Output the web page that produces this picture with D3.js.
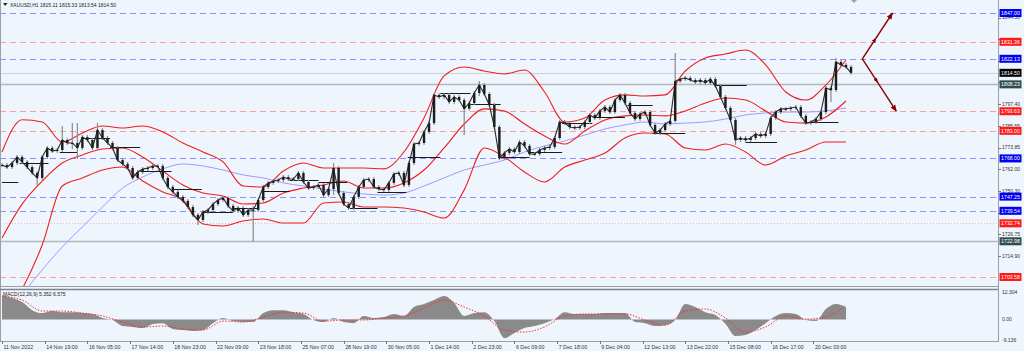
<!DOCTYPE html>
<html><head><meta charset="utf-8">
<script src="https://cdn.jsdelivr.net/npm/d3@7"></script>
<style>
html,body{margin:0;padding:0;background:#eff5fc;}
svg{display:block;font-family:"Liberation Sans",Arial,sans-serif;}
</style></head><body>
<svg id="chart" width="1024" height="351"></svg>
<script>
// XAUUSD H1: one close every 4 bars
const STEP = 4;
const closes = [
 1764.4,1763.3,1765.5,1768.8,1766.1,1763.3,1760.1,1757.4,1768.8,1773.7,
 1772.0,1772.6,1778.0,1776.4,1776.4,1773.7,1779.6,1778.0,1773.7,1783.4,
 1779.1,1776.4,1773.7,1767.1,1765.0,1762.8,1757.4,1760.6,1762.2,1762.8,
 1763.9,1763.9,1757.4,1752.5,1749.8,1747.1,1744.9,1741.6,1737.3,1734.6,
 1738.9,1740.0,1743.2,1745.4,1746.5,1742.2,1739.5,1741.1,1737.3,1740.0,
 1740.0,1745.4,1752.5,1754.7,1755.7,1756.3,1757.9,1756.8,1756.8,1760.1,
 1755.2,1751.9,1752.5,1753.6,1748.1,1751.4,1762.8,1749.2,1743.2,1741.1,
 1747.1,1752.5,1756.3,1756.8,1752.5,1751.4,1750.9,1754.7,1759.6,1760.1,
 1753.6,1765.5,1775.8,1776.4,1782.4,1787.2,1802.5,1801.4,1802.5,1798.7,
 1801.4,1799.7,1795.0,1798.1,1803.5,1807.9,1803.0,1797.0,1785.1,1768.2,
 1771.0,1773.1,1771.5,1776.9,1774.8,1770.4,1770.4,1772.6,1773.7,1774.2,
 1779.1,1787.8,1787.2,1785.1,1784.5,1785.1,1787.8,1791.6,1790.0,1793.8,
 1795.9,1793.2,1799.7,1802.5,1798.1,1792.7,1789.4,1792.1,1793.2,1786.2,
 1781.8,1783.4,1786.7,1788.4,1810.0,1811.1,1811.7,1810.6,1809.5,1810.6,
 1809.0,1811.1,1807.3,1801.4,1795.4,1788.9,1778.0,1779.1,1778.0,1779.1,
 1781.3,1780.2,1781.3,1790.0,1793.2,1794.9,1794.9,1795.4,1795.9,1791.1,
 1787.2,1787.8,1789.4,1793.2,1806.3,1805.2,1820.4,1818.8,1817.7,1814.5
];
// [sample, high, low] for the long shadows
const wicks = [
 [7,1760.1,1754.7],[12,1784.5,1776.4],[14,1786.2,1774.2],[15,1786.2,1768.8],
 [19,1786.2,1779.1],[39,1737.3,1732.9],[50,1741.1,1723.7],[66,1764.4,1749.2],
 [92,1799.7,1781.8],[95,1809.0,1803.0],[134,1824.2,1788.4],[146,1788.9,1776.4],
 [165,1806.3,1799.7],[166,1821.5,1805.2]
];

// indicators, one value every 16 bars
const BAND_STEP = 16;
const bbUpper = [1771.5,1789.0,1787.8,1776.9,1781.8,1785.6,1784.5,1785.6,1782.4,1776.4,
 1771.5,1766.1,1753.0,1752.5,1761.2,1765.5,1762.8,1762.8,1762.8,1762.3,1771.5,1790.0,
 1812.8,1817.7,1815.5,1813.9,1816.0,1804.1,1787.8,1790.0,1799.7,1802.5,1801.9,1802.5,
 1815.5,1822.6,1824.7,1826.9,1818.8,1804.1,1799.7,1807.9,1821.5];
const bbMiddle = [1724.8,1743.2,1755.7,1765.5,1769.9,1773.1,1773.7,1768.8,1761.2,1753.6,
 1749.2,1747.6,1743.2,1743.8,1749.2,1751.9,1753.6,1755.7,1751.9,1751.9,1754.7,1761.7,
 1773.7,1786.7,1794.9,1793.8,1786.7,1780.2,1775.8,1782.9,1788.9,1791.1,1791.6,1791.1,
 1793.8,1798.1,1800.8,1799.7,1793.8,1787.8,1787.2,1790.5,1799.2];
const bbLower = [1680.0,1697.0,1721.0,1753.0,1757.4,1761.7,1763.3,1755.7,1749.8,1745.4,
 1732.4,1731.3,1734.0,1735.1,1732.9,1732.9,1743.8,1744.3,1741.6,1741.6,1741.1,1738.9,
 1735.6,1750.9,1773.7,1768.8,1760.6,1755.2,1763.3,1767.1,1770.9,1779.1,1781.8,1781.3,
 1773.7,1772.6,1775.8,1771.5,1764.4,1769.3,1772.6,1776.9,1776.9];
const maSlow = [1670.0,1693.0,1707.4,1719.9,1730.8,1741.6,1751.9,1757.9,1762.3,1765.0,
 1763.9,1761.7,1759.0,1757.4,1754.7,1753.0,1751.4,1749.8,1748.7,1748.1,1749.2,1753.0,
 1757.4,1761.7,1764.4,1767.1,1771.5,1774.8,1777.5,1780.7,1784.0,1786.2,1787.8,1786.7,
 1787.2,1787.8,1789.4,1791.6,1792.7,1793.2,1793.2,1793.8,1795.4];

// MACD(12,26,9): main every 8 bars, signal every 16 bars
const MACD_STEP = 8;
const macdMain = [10.9,9.6,7.8,4.2,2.9,3.8,3.3,3.3,2.9,2.5,
 0.7,-0.2,-2.9,-3.3,-3.8,-2.0,-1.6,-4.2,-4.7,-5.1,
 -4.7,-1.6,0.7,-0.7,-1.1,-1.1,2.9,4.2,4.2,3.3,
 2.5,-0.2,-1.1,0.7,-1.1,-1.6,1.6,0.7,1.1,2.5,
 1.6,5.6,6.9,8.7,10.5,7.4,1.6,2.9,3.3,-0.7,
 -8.3,-6.0,-3.8,-2.9,-1.6,0.2,3.3,2.5,2.5,2.5,
 2.9,2.9,2.9,-1.1,-1.6,-2.9,-2.5,-0.2,6.9,5.6,
 3.3,2.0,-2.0,-7.4,-6.9,-4.7,-1.6,1.6,2.9,2.5,
 -0.2,-0.7,4.7,6.9,5.4];
const macdSignal = [10.5,8.7,3.8,3.8,2.9,1.6,-1.1,-3.3,-2.9,-4.2,-4.7,-0.7,-1.1,1.1,
 3.3,2.9,-0.7,-0.2,-0.2,0.7,1.6,5.1,8.7,5.6,1.6,-4.7,-5.6,-3.3,1.6,2.5,2.5,2.5,-0.2,
 -2.5,3.8,4.7,0.7,-5.6,-3.3,1.6,0.2,1.1,6.5];

// previous-session close markers: [fromBar, toBar, price]
const sessionLines = [[0,13,1755.2],[14,37,1765.5],[46,60,1771.5],[64,86,1779.1],
 [86,110,1774.2],[110,135,1761.2],[136,159,1751.4],[160,184,1738.9],[184,204,1741.1],
 [208,229,1750.3],[229,252,1756.3],[252,275,1755.2],[277,299,1741.1],[299,322,1749.8],
 [323,349,1768.8],[349,373,1803.5],[373,397,1797.6],[397,420,1768.8],[420,446,1771.5],
 [446,470,1787.2],[471,496,1790.5],[498,518,1797.0],[518,544,1781.8],[568,593,1807.9],
 [592,617,1776.9],[643,666,1787.8]];

// horizontal levels
const levelPrices = [1847.00,1831.36,1822.13,1793.63,1783.00,1768.00,1747.25,1739.54,1732.74,1703.58];
const levelKinds  = ['zone','target','zone','target','target','zone','zone','zone','stop','target'];
const markPrices = [1814.50,1808.23,1722.98];
const markKinds  = ['bid','pivot','pivot'];

// projection arrows: apex, upper target, lower target
const projBars   = [685,709,712];
const projPrices = [1822.13,1847.00,1793.63];

const priceTicks = [1844.50,1832.80,1820.95,1809.25,1797.40,1785.55,1773.85,1762.00,1750.30,1738.45,1726.75,1714.90];
const macdTicks = [12.304,0.00,-9.136];
const timeLabels = ['11 Nov 2022','14 Nov 19:00','16 Nov 05:00','17 Nov 14:00','18 Nov 23:00',
 '22 Nov 09:00','23 Nov 18:00','25 Nov 07:00','28 Nov 19:00','30 Nov 05:00','1 Dec 14:00',
 '2 Dec 23:00','6 Dec 09:00','7 Dec 18:00','9 Dec 04:00','12 Dec 13:00','13 Dec 22:00',
 '15 Dec 08:00','16 Dec 17:00','20 Dec 03:00'];
const LABEL_EVERY = 34;

// ---------------------------------------------------------------
var W = 1024, plotR = 998;
var mainTop = 3, mainBot = 286, macdTop = 289, macdBot = 341;
var svg = d3.select('#chart');

var x = d3.scaleLinear().domain([0, 790]).range([2, 2 + 790 * 1.256]);
var y = d3.scaleLinear().domain([1703.58, 1847]).range([277, 13]);
var ym = d3.scaleLinear().domain([-9.136, 12.304]).range([340, 292]);

var defs = svg.append('defs');
defs.append('clipPath').attr('id', 'clipMain').append('rect')
  .attr('x', 0).attr('y', mainTop).attr('width', plotR).attr('height', mainBot - mainTop);
defs.append('clipPath').attr('id', 'clipMacd').append('rect')
  .attr('x', 0).attr('y', macdTop).attr('width', plotR).attr('height', macdBot - macdTop);
defs.append('marker').attr('id', 'arrowHead').attr('viewBox', '0 0 10 10')
  .attr('refX', 9).attr('refY', 5).attr('markerWidth', 5).attr('markerHeight', 5)
  .attr('orient', 'auto')
  .append('path').attr('d', 'M0,1 L10,5 L0,9 Z').attr('fill', '#8b0000');

svg.append('rect').attr('width', W).attr('height', 351).attr('fill', '#eff5fc');

var main = svg.append('g').attr('clip-path', 'url(#clipMain)');

// levels
var levelStyle = {
  zone:   {stroke: '#8f8fff', dash: '6,4', w: 1},
  target: {stroke: '#ff9d9d', dash: '6,4', w: 1},
  stop:   {stroke: '#ffb4b4', dash: '1,2', w: 1},
  bid:    {stroke: '#cfd3d8', dash: null, w: 1},
  pivot:  {stroke: '#b3b8be', dash: null, w: 1.5}
};
var tagFill = {zone: '#0000f0', target: '#ff1a1a', stop: '#ff1a1a', bid: '#000000', pivot: '#2f4f4f'};

var allLevels = levelPrices.map((p, i) => ({p: p, k: levelKinds[i]}))
  .concat(markPrices.map((p, i) => ({p: p, k: markKinds[i]})));

main.selectAll('line.level').data(allLevels).enter().append('line')
  .attr('class', 'level')
  .attr('x1', 0).attr('x2', plotR)
  .attr('y1', d => Math.round(y(d.p)) + 0.5).attr('y2', d => Math.round(y(d.p)) + 0.5)
  .attr('stroke', d => levelStyle[d.k].stroke)
  .attr('stroke-width', d => levelStyle[d.k].w)
  .attr('stroke-dasharray', d => levelStyle[d.k].dash);

// indicators
var bandLine = function(arr){
  return d3.line().x((d, i) => x(i * BAND_STEP)).y(d => y(d)).curve(d3.curveMonotoneX)(arr);
};
main.append('path').attr('d', bandLine(maSlow)).attr('fill', 'none')
  .attr('stroke', '#9b9bff').attr('stroke-width', 1);
[bbUpper, bbMiddle, bbLower].forEach(function(arr){
  main.append('path').attr('d', bandLine(arr)).attr('fill', 'none')
    .attr('stroke', '#f01e1e').attr('stroke-width', 1.1);
});

// session close segments
main.selectAll('line.sess').data(sessionLines).enter().append('line')
  .attr('class', 'sess')
  .attr('x1', d => x(d[0])).attr('x2', d => x(d[1]))
  .attr('y1', d => Math.round(y(d[2])) + 0.5).attr('y2', d => Math.round(y(d[2])) + 0.5)
  .attr('stroke', '#1a1a1a').attr('stroke-width', 1);

// candles
var wickMap = {};
wicks.forEach(w => wickMap[w[0]] = w);
var candles = closes.map(function(c, k){
  var o = k > 0 ? closes[k - 1] : c;
  var hi = Math.max(o, c), lo = Math.min(o, c);
  if (wickMap[k]) { hi = Math.max(hi, wickMap[k][1]); lo = Math.min(lo, wickMap[k][2]); }
  return {bar: k * STEP, o: o, c: c, hi: hi, lo: lo};
});
var cg = main.append('g');
cg.selectAll('line').data(candles).enter().append('line')
  .attr('x1', d => x(d.bar)).attr('x2', d => x(d.bar))
  .attr('y1', d => y(d.hi) - 2).attr('y2', d => y(d.lo) + 2)
  .attr('stroke', '#8c8c8c').attr('stroke-width', 1.2);
cg.append('path')
  .attr('d', d3.line().x(d => x(d.bar)).y(d => y(d.c))(candles))
  .attr('fill', 'none').attr('stroke', '#2a2a2a').attr('stroke-width', 1.1);
cg.selectAll('rect').data(candles).enter().append('rect')
  .attr('x', d => x(d.bar) - 1.2).attr('width', 2.4)
  .attr('y', d => y(Math.max(d.o, d.c)))
  .attr('height', d => Math.max(1, Math.abs(y(d.o) - y(d.c))))
  .attr('fill', '#1c1c1c');

// projection arrows
[1, 2].forEach(function(i){
  var x0 = x(projBars[0]), y0 = y(projPrices[0]);
  var x1 = x(projBars[i]), y1 = y(projPrices[i]);
  main.append('line').attr('x1', x0).attr('y1', y0).attr('x2', x1).attr('y2', y1)
    .attr('stroke', '#8b0000').attr('stroke-width', 1.4).attr('marker-end', 'url(#arrowHead)');
  var mx = x0 + (x1 - x0) * 0.45, my = y0 + (y1 - y0) * 0.45;
  main.append('line').attr('x1', x0).attr('y1', y0).attr('x2', mx).attr('y2', my)
    .attr('stroke', 'none').attr('marker-end', 'url(#arrowHead)');
});

// MACD panel
var mg = svg.append('g').attr('clip-path', 'url(#clipMacd)');
mg.append('path')
  .attr('d', d3.area().x((d, i) => x(i * MACD_STEP)).y0(ym(0)).y1(d => ym(d))
    .curve(d3.curveMonotoneX)(macdMain))
  .attr('fill', '#8a8a8a');
mg.append('path')
  .attr('d', d3.line().x((d, i) => x(i * BAND_STEP)).y(d => ym(d)).curve(d3.curveMonotoneX)(macdSignal))
  .attr('fill', 'none').attr('stroke', '#ff2a2a').attr('stroke-width', 1)
  .attr('stroke-dasharray', '1.5,1.5');

// frame
var frame = svg.append('g').attr('stroke', '#9aa0a6').attr('stroke-width', 1).attr('fill', 'none');
frame.append('line').attr('x1', 0.5).attr('x2', 0.5).attr('y1', 0).attr('y2', macdBot);
frame.append('line').attr('x1', plotR + 0.5).attr('x2', plotR + 0.5).attr('y1', 0).attr('y2', macdBot + 1);
frame.append('line').attr('x1', 0).attr('x2', plotR).attr('y1', mainBot + 0.5).attr('y2', mainBot + 0.5);
frame.append('line').attr('x1', 0).attr('x2', plotR).attr('y1', macdTop + 0.5).attr('y2', macdTop + 0.5)
  .attr('stroke', '#808589').attr('stroke-width', 1.5);
frame.append('line').attr('x1', 0).attr('x2', plotR).attr('y1', macdBot + 0.5).attr('y2', macdBot + 0.5);

// shift marker
svg.append('path').attr('d', 'M851,0 L857,0 L854,3 Z').attr('fill', '#a0a0a0');

// price axis: ticks hidden behind a level tag are skipped, as the terminal does
var tagY = allLevels.map(d => y(d.p));
var shownTicks = priceTicks.filter(v => d3.min(tagY, t => Math.abs(t - y(v))) > 4);
var axisText = svg.append('g').attr('font-size', 5).attr('fill', '#333');
axisText.selectAll('text.pt').data(shownTicks).enter().append('text')
  .attr('class', 'pt').attr('x', 1002).attr('y', d => y(d) + 1.8).text(d => d.toFixed(2));
svg.selectAll('line.ptk').data(priceTicks).enter().append('line')
  .attr('class', 'ptk').attr('x1', plotR).attr('x2', plotR + 3)
  .attr('y1', d => Math.round(y(d)) + 0.5).attr('y2', d => Math.round(y(d)) + 0.5)
  .attr('stroke', '#777');

var tags = svg.append('g');
tags.selectAll('rect').data(allLevels).enter().append('rect')
  .attr('x', plotR + 1.5).attr('width', 22).attr('y', d => y(d.p) - 4).attr('height', 8)
  .attr('fill', d => tagFill[d.k]);
tags.selectAll('text').data(allLevels).enter().append('text')
  .attr('x', plotR + 12.5).attr('y', d => y(d.p) + 1.9).attr('text-anchor', 'middle')
  .attr('font-size', 5.2).attr('fill', '#fff').text(d => d.p.toFixed(2));

// MACD axis
axisText.selectAll('text.mt').data(macdTicks).enter().append('text')
  .attr('class', 'mt').attr('x', 1002).attr('y', d => ym(d) + 1.8)
  .text(d => d === 0 ? '0.00' : d.toFixed(3));

// time axis
var tx = svg.append('g');
tx.selectAll('line').data(timeLabels).enter().append('line')
  .attr('x1', (d, i) => Math.round(x(i * LABEL_EVERY)) + 0.5)
  .attr('x2', (d, i) => Math.round(x(i * LABEL_EVERY)) + 0.5)
  .attr('y1', macdBot).attr('y2', macdBot + 3).attr('stroke', '#777');
tx.selectAll('text').data(timeLabels).enter().append('text')
  .attr('x', (d, i) => x(i * LABEL_EVERY) + 1.5).attr('y', 348.5)
  .attr('font-size', 5.3).attr('fill', '#333').text(d => d);

// captions
svg.append('path').attr('d', 'M3,3 L7.5,3 L5.25,6 Z').attr('fill', '#222');
svg.append('text').attr('x', 10).attr('y', 7).attr('font-size', 5).attr('fill', '#222')
  .text('XAUUSD,H1  1815.11 1815.33 1813.54 1814.50');
svg.append('text').attr('x', 3).attr('y', 296).attr('font-size', 5).attr('fill', '#222')
  .text('MACD(12,26,9) 5.352 6.575');
</script>
</body></html>
